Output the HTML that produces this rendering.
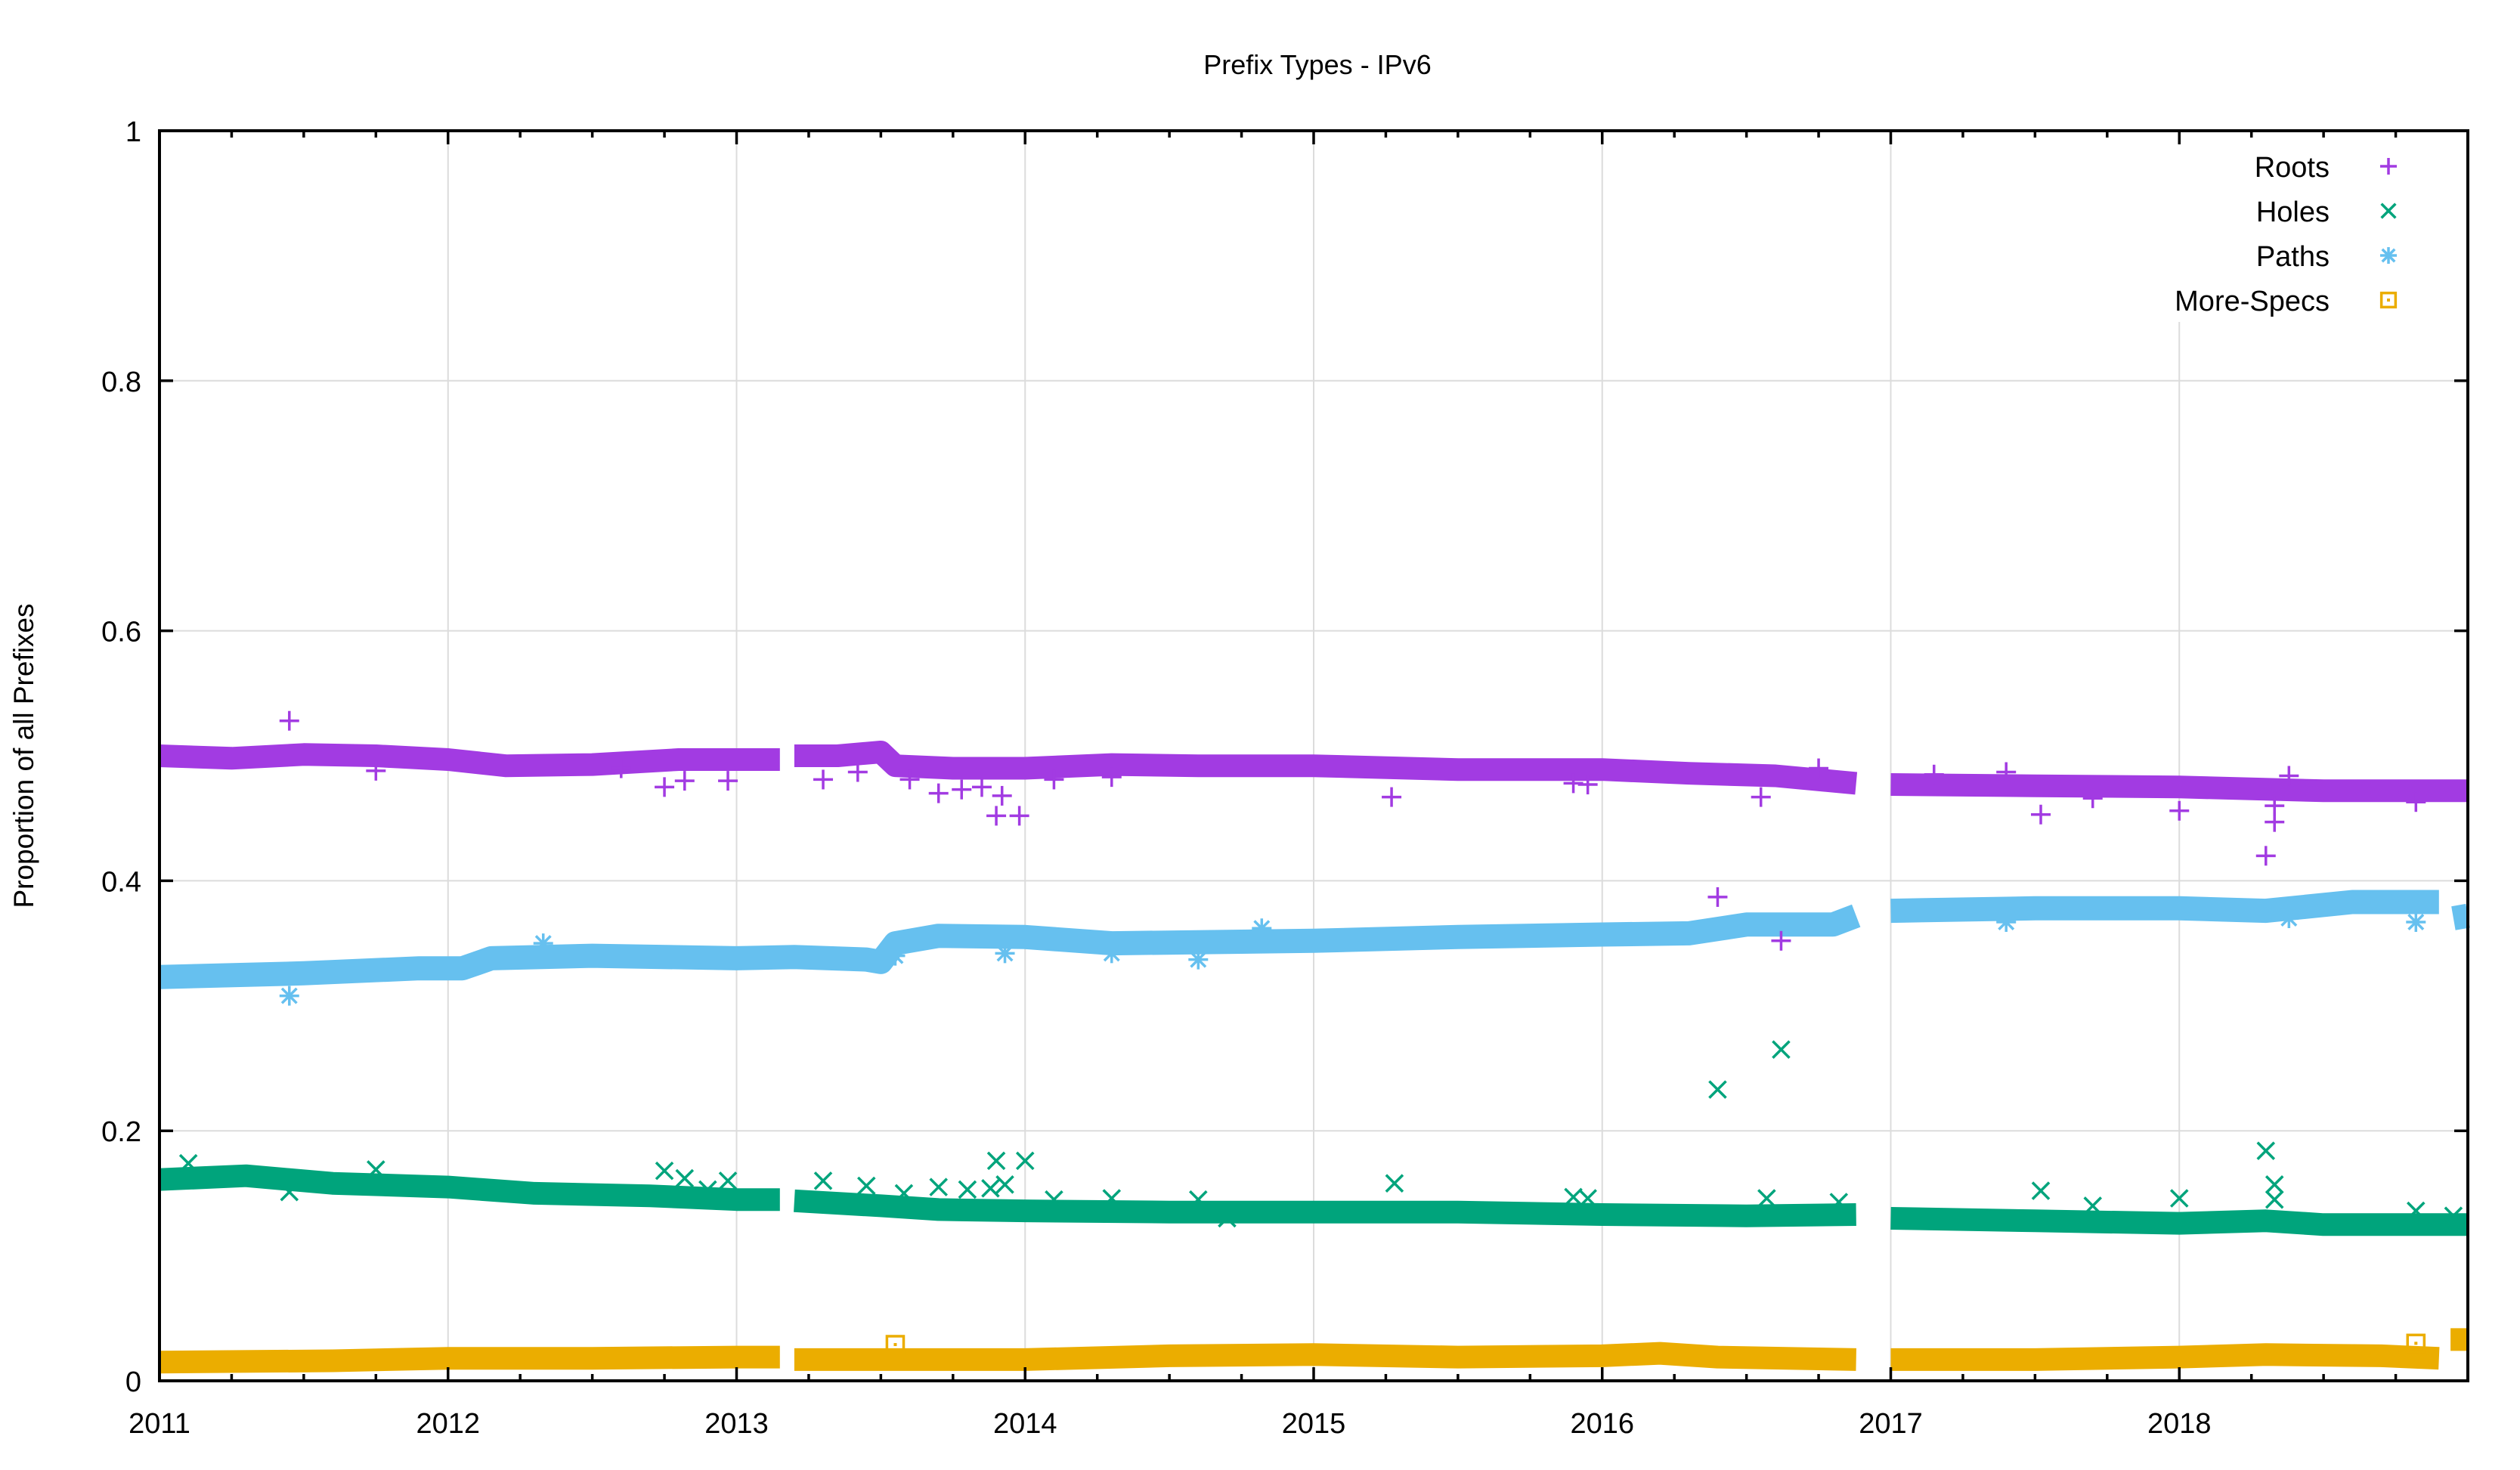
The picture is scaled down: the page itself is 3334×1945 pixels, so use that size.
<!DOCTYPE html>
<html><head><meta charset="utf-8"><style>
html,body{margin:0;padding:0;background:#fff;}
svg{display:block;font-family:"Liberation Sans",Arial,sans-serif;}
</style></head><body>
<svg id="chart" width="3334" height="1945" viewBox="0 0 3334 1945" xmlns="http://www.w3.org/2000/svg">
<rect x="0" y="0" width="3334" height="1945" fill="#fff"/>
<text x="1743" y="98" font-size="36" text-anchor="middle">Prefix Types - IPv6</text>
<text x="0" y="0" font-size="37" text-anchor="middle" transform="translate(44,1000) rotate(-90)">Proportion of all Prefixes</text>
<g id="grid"></g>
<g id="marks"></g>
<g id="axes"></g>
<g id="legend"></g>
</svg>
<script>
// ---- data ----
const xTickYears = [2011,2012,2013,2014,2015,2016,2017,2018];
const yTicks = [0,0.2,0.4,0.6,0.8,1];
const yTickLabels = ["0","0.2","0.4","0.6","0.8","1"];
const seriesNames = ["Roots","Holes","Paths","More-Specs"];

// trend samples (NaN = gap)
const rootsT = [2011,2011.25,2011.5,2011.75,2012,2012.2,2012.5,2012.8,2013.0,2013.15,2013.17,2013.2,2013.35,2013.5,2013.55,2013.75,2014,2014.3,2014.6,2015,2015.5,2016,2016.3,2016.6,2016.88,2016.9,2017.0,2017.5,2018,2018.5,2019];
const rootsV = [0.500,0.498,0.501,0.500,0.497,0.492,0.493,0.497,0.497,0.497,NaN,0.500,0.500,0.503,0.492,0.490,0.490,0.493,0.492,0.492,0.489,0.489,0.486,0.484,0.478,NaN,0.477,0.476,0.475,0.472,0.472];
const holesT = [2011,2011.3,2011.6,2012,2012.3,2012.7,2013.0,2013.15,2013.17,2013.2,2013.5,2013.7,2014,2014.5,2015,2015.5,2016,2016.5,2016.88,2016.9,2017.0,2017.5,2018,2018.3,2018.5,2019];
const holesV = [0.161,0.164,0.158,0.155,0.150,0.148,0.145,0.145,NaN,0.144,0.140,0.137,0.136,0.135,0.135,0.135,0.133,0.132,0.133,NaN,0.130,0.128,0.126,0.128,0.125,0.125];
const pathsT = [2011,2011.5,2011.9,2012.05,2012.15,2012.5,2013.0,2013.2,2013.45,2013.5,2013.55,2013.7,2014,2014.3,2015,2015.5,2016,2016.3,2016.5,2016.8,2016.88,2016.9,2017.0,2017.5,2018,2018.3,2018.6,2018.9,2018.93,2018.95,2019];
const pathsV = [0.323,0.326,0.330,0.330,0.338,0.340,0.338,0.339,0.337,0.335,0.350,0.356,0.355,0.350,0.352,0.355,0.357,0.358,0.365,0.365,0.372,NaN,0.376,0.378,0.378,0.376,0.383,0.383,NaN,0.370,0.372];
const specsT = [2011,2011.6,2012,2012.5,2013.0,2013.15,2013.17,2013.2,2013.5,2014,2014.5,2015,2015.5,2016,2016.2,2016.4,2016.88,2016.9,2017.0,2017.5,2018,2018.3,2018.7,2018.9,2018.92,2018.94,2019];
const specsV = [0.015,0.016,0.018,0.018,0.019,0.019,NaN,0.017,0.017,0.017,0.020,0.021,0.019,0.020,0.022,0.019,0.017,NaN,0.017,0.017,0.019,0.021,0.020,0.018,NaN,0.033,0.033];

// outliers
const rootsOutT = [2011.45,2011.75,2012.6,2012.75,2012.82,2012.97,2013.3,2013.42,2013.6,2013.7,2013.78,2013.85,2013.9,2013.92,2013.98,2014.1,2014.3,2015.27,2015.9,2015.95,2016.4,2016.55,2016.62,2016.75,2017.15,2017.4,2017.52,2017.7,2018.0,2018.3,2018.33,2018.33,2018.38,2018.82];
const rootsOutV = [0.528,0.488,0.490,0.475,0.480,0.480,0.481,0.487,0.481,0.470,0.473,0.475,0.452,0.468,0.452,0.481,0.483,0.467,0.478,0.477,0.387,0.467,0.352,0.490,0.485,0.487,0.453,0.466,0.456,0.420,0.447,0.460,0.484,0.463];
const holesOutT = [2011.1,2011.45,2011.75,2012.75,2012.82,2012.9,2012.97,2013.3,2013.45,2013.58,2013.7,2013.8,2013.88,2013.9,2013.93,2014.0,2014.1,2014.3,2014.6,2014.7,2015.28,2015.9,2015.95,2016.4,2016.57,2016.62,2016.82,2017.52,2017.7,2018.0,2018.3,2018.33,2018.33,2018.82,2018.95];
const holesOutV = [0.174,0.151,0.169,0.168,0.162,0.153,0.160,0.160,0.156,0.150,0.155,0.153,0.154,0.176,0.157,0.176,0.145,0.146,0.145,0.130,0.158,0.147,0.146,0.233,0.146,0.265,0.143,0.152,0.140,0.146,0.184,0.157,0.145,0.136,0.132];
const pathsOutT = [2011.45,2012.33,2013.55,2013.93,2014.3,2014.6,2014.82,2017.4,2018.38,2018.82];
const pathsOutV = [0.308,0.350,0.340,0.342,0.342,0.337,0.362,0.367,0.370,0.367];
const specsOutT = [2013.55,2018.82];
const specsOutV = [0.029,0.030];

// ---- layout ----
const L=211,R=3265,T=173,B=1827;
const X0=2011,X1=2019;
const xs=t=>L+(t-X0)/(X1-X0)*(R-L);
const ys=v=>B-v*(B-T);
const NS="http://www.w3.org/2000/svg";
function mk(tag,attrs,parent){const e=document.createElementNS(NS,tag);for(const k in attrs)e.setAttribute(k,attrs[k]);parent.appendChild(e);return e;}
const grid=document.getElementById('grid'),marks=document.getElementById('marks'),axes=document.getElementById('axes'),legend=document.getElementById('legend');

// grid
yTicks.forEach(v=>{if(v>0&&v<1){const g=mk('line',{x1:L,x2:R,y1:ys(v),y2:ys(v),stroke:'#dcdcdc','stroke-width':2},grid);

}});
xTickYears.forEach(t=>{if(t>X0){const top=(t===2018)?426:T;const g=mk('line',{x1:xs(t),x2:xs(t),y1:top,y2:B,stroke:'#dcdcdc','stroke-width':2},grid);

}});

const colors=["#a23be2","#00a47c","#66c0ef","#ebad00"];
const bandW=[30,30,32,30];
function band(ts,vs,ci,name){
  let seg=[];
  const flush=()=>{if(seg.length>1){const p=mk('polyline',{points:seg.join(' '),fill:'none',stroke:colors[ci],'stroke-width':bandW[ci],'stroke-linejoin':'round'},marks);
  
  }seg=[];};
  for(let i=0;i<ts.length;i++){if(isNaN(vs[i])){flush();continue;}seg.push(xs(ts[i]).toFixed(1)+','+ys(vs[i]).toFixed(1));}
  flush();
}
function marker(type,cx,cy,col,parent,s){
  const g=mk('g',{stroke:col,'stroke-width':3.5,fill:'none'},parent);
  if(type===0){mk('line',{x1:cx-s,x2:cx+s,y1:cy,y2:cy},g);mk('line',{x1:cx,x2:cx,y1:cy-s,y2:cy+s},g);}
  else if(type===1){mk('line',{x1:cx-s*0.85,x2:cx+s*0.85,y1:cy-s*0.85,y2:cy+s*0.85},g);mk('line',{x1:cx-s*0.85,x2:cx+s*0.85,y1:cy+s*0.85,y2:cy-s*0.85},g);}
  else if(type===2){mk('line',{x1:cx-s,x2:cx+s,y1:cy,y2:cy},g);mk('line',{x1:cx,x2:cx,y1:cy-s,y2:cy+s},g);mk('line',{x1:cx-s*0.75,x2:cx+s*0.75,y1:cy-s*0.75,y2:cy+s*0.75},g);mk('line',{x1:cx-s*0.75,x2:cx+s*0.75,y1:cy+s*0.75,y2:cy-s*0.75},g);}
  else {mk('rect',{x:cx-s*0.85,y:cy-s*0.85,width:s*1.7,height:s*1.7},g);mk('rect',{x:cx-2,y:cy-2,width:4,height:4,fill:col,stroke:'none'},g);}
  return g;
}
band(specsT,specsV,3,'more-specs');
band(holesT,holesV,1,'holes');
band(pathsT,pathsV,2,'paths');
band(rootsT,rootsV,0,'roots');
const outs=[[rootsOutT,rootsOutV,0,'roots'],[holesOutT,holesOutV,1,'holes'],[pathsOutT,pathsOutV,2,'paths'],[specsOutT,specsOutV,3,'more-specs']];
outs.forEach(([ts,vs,ci,name])=>{ts.forEach((t,i)=>{const g=marker(ci,xs(t),ys(vs[i]),colors[ci],marks,13);

});});

// axes
const frame=mk('rect',{x:L,y:T,width:R-L,height:B-T,fill:'none',stroke:'#000','stroke-width':4},axes);


for(let q=0;q<=(X1-X0)*4;q++){const t=X0+q/4;const x=xs(t);const len=(q%4===0)?18:9;
  mk('line',{x1:x,x2:x,y1:B,y2:B-len,stroke:'#000','stroke-width':3.5},axes);
  mk('line',{x1:x,x2:x,y1:T,y2:T+len,stroke:'#000','stroke-width':3.5},axes);}
xTickYears.forEach(t=>{const lb=mk('text',{x:xs(t),y:1896,'font-size':38,'text-anchor':'middle'},axes);lb.textContent=String(t);

});
yTicks.forEach((v,i)=>{const y=ys(v);
  mk('line',{x1:L,x2:L+18,y1:y,y2:y,stroke:'#000','stroke-width':3.5},axes);
  mk('line',{x1:R,x2:R-18,y1:y,y2:y,stroke:'#000','stroke-width':3.5},axes);
  const lb=mk('text',{x:187,y:y+14,'font-size':38,'text-anchor':'end'},axes);lb.textContent=yTickLabels[i];
  
  });

// legend
const legY=[220,279,338,397];
seriesNames.forEach((n,i)=>{
  const tx=mk('text',{x:3082,y:legY[i]+14,'font-size':38,'text-anchor':'end'},legend);tx.textContent=n;
  
  
  const g=marker(i,3160,legY[i],colors[i],legend,11);
  
  
});
</script>
</body></html>
